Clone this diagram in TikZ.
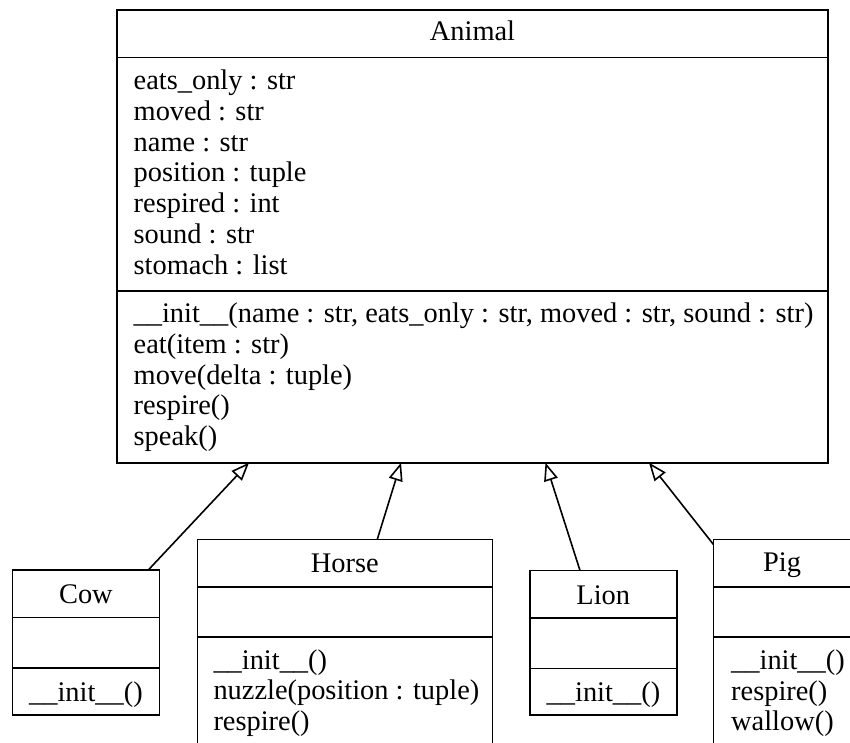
\documentclass[tikz,border=0pt]{standalone}
\usepackage{fontspec}
\setmainfont{Liberation Serif}
\usepackage{tikz}
\usetikzlibrary{arrows.meta,positioning,calc}

\begin{document}
\begin{tikzpicture}[x=1pt, y=-1pt,
    font=\fontsize{28.4}{30.8}\selectfont,
    classbox/.style={draw, line width=1.6pt, rectangle, inner sep=0pt, outer sep=0pt, anchor=north west},
    divider/.style={line width=1.6pt},
    member/.style={anchor=base west, inner sep=0pt},
    title/.style={anchor=base, inner sep=0pt},
    inherit/.style={-{Triangle[open, length=18pt, width=14pt]}, line width=1.6pt}]
    \clip (0,0) rectangle (850,742);

    % Class boxes
    \node[classbox, minimum width=711pt, minimum height=452.7pt] (animal) at (117,10) {};
    \node[classbox, minimum width=146.8pt, minimum height=145pt] (cow) at (12.5,570) {};
    \node[classbox, minimum width=295pt, minimum height=215pt] (horse) at (197.3,539.3) {};
    \node[classbox, minimum width=146.7pt, minimum height=144.5pt] (lion) at (530,570.5) {};
    \node[classbox, minimum width=138pt, minimum height=215pt] (pig) at (713.3,539.3) {};

    % Compartment lines
    \draw[divider] ([yshift=-47.3pt]animal.north west) -- ([yshift=-47.3pt]animal.north east);
    \draw[divider] ([yshift=-281pt]animal.north west) -- ([yshift=-281pt]animal.north east);
    \foreach \cls/\da/\db in {cow/47.5/98, horse/47.4/97.4, lion/47.2/97.8, pig/47.4/97.4} {
        \draw[divider] ([yshift=-\da pt]\cls.north west) -- ([yshift=-\da pt]\cls.north east);
        \draw[divider] ([yshift=-\db pt]\cls.north west) -- ([yshift=-\db pt]\cls.north east);
    }

    % Class names
    \node[title] (animalname) at (472.5,40.5) {Animal};
    \node[title] (cowname) at (85.9,603.5) {Cow};
    \node[title] (horsename) at (344.8,572) {Horse};
    \node[title] (lionname) at (603.3,604) {Lion};
    \node[title] (pigname) at (782,571) {Pig};

    % Attributes and methods of Animal
    \foreach \txt [count=\i from 0] in {eats\_only : str, moved : str, name : str,
        position : tuple, respired : int, sound : str, stomach : list} {
        \node[member] (animalattr\i) at (133.5,89.5+30.75*\i) {\txt};
    }
    \foreach \txt [count=\i from 0] in {{\_\_init\_\_(name : str, eats\_only : str, moved : str, sound : str)},
        eat(item : str), move(delta : tuple), respire(), speak()} {
        \node[member] (animalop\i) at (133.5,322.7+30.75*\i) {\txt};
    }

    % Methods of the subclasses
    \node[member] (cowop0) at (29,701.5) {\_\_init\_\_()};
    \node[member] (lionop0) at (546.5,701.5) {\_\_init\_\_()};
    \foreach \txt [count=\i from 0] in {\_\_init\_\_(), nuzzle(position : tuple), respire()} {
        \node[member] (horseop\i) at (213.3,669+30.5*\i) {\txt};
    }
    \foreach \txt [count=\i from 0] in {\_\_init\_\_(), respire(), wallow()} {
        \node[member] (pigop\i) at (731,669.5+30.5*\i) {\txt};
    }

    % Inheritance arrows
    \draw[inherit] ([xshift=135.8pt]cow.north west) -- ([xshift=132pt]animal.south west);
    \draw[inherit] ([xshift=180pt]horse.north west) -- ([xshift=284pt]animal.south west);
    \draw[inherit] ([xshift=50pt]lion.north west) -- ([xshift=428.5pt]animal.south west);
    \draw[inherit] ([yshift=-5pt]pig.north west) -- ([xshift=532pt]animal.south west);
\end{tikzpicture}
\end{document}
